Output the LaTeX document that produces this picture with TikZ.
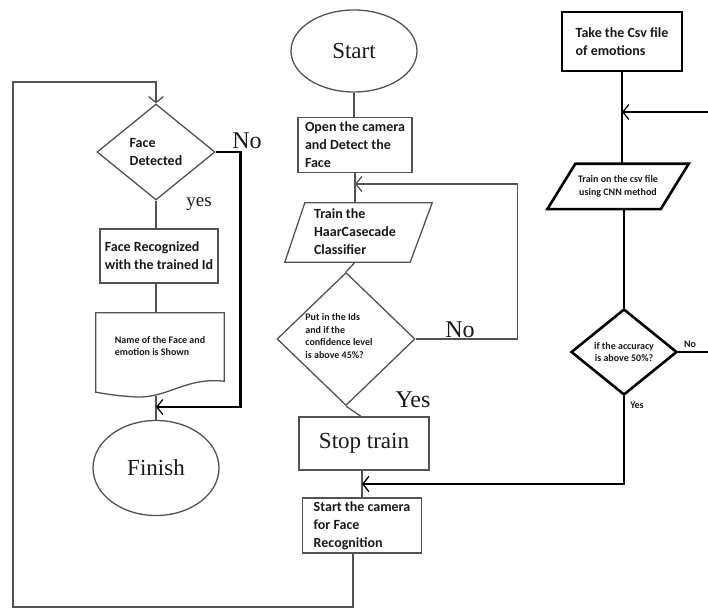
\documentclass[tikz,border=0pt]{standalone}
\usepackage{fontspec}
\setmainfont{Liberation Serif}
\setsansfont{Carlito}
\usetikzlibrary{shapes.geometric,arrows.meta}
\begin{document}
\begin{tikzpicture}[x=1pt,y=-1pt,
  thinln/.style={draw=black!68, line width=1.3pt},
  thickln/.style={draw=black, line width=2.6pt},
  barb/.style={-{Straight Barb[length=6pt,width=15pt,line width=1.3pt]}},
  boxtxt/.style={font=\sffamily\bfseries\fontsize{14}{18}\selectfont, text=black!90, align=left},
  smalltxt/.style={font=\sffamily\bfseries\fontsize{10}{12.5}\selectfont, text=black!90},
  bigserif/.style={font=\fontsize{23}{26}\selectfont, text=black!90},
  procbox/.style={rectangle, thinln, inner sep=0pt, boxtxt},
  termin/.style={ellipse, thinln, inner sep=0pt, bigserif},
  decide/.style={diamond, thinln, inner sep=0pt},
  plainbox/.style={rectangle, draw=none, inner sep=0pt}
]
\useasboundingbox (0,0) rectangle (708,609);

% ---------------- left column: recognition ----------------
\node[decide, boxtxt, minimum width=118, minimum height=96] (fd) at (156,152) {Face\\Detected};
\node[procbox, minimum width=118, minimum height=54] (fr) at (159,256) {Face Recognized\\with the trained Id};
\node[plainbox, minimum width=128, minimum height=84] (doc) at (160,355) {};
\draw[thinln] (doc.north west) -- (doc.north east) -- ([yshift=16]doc.south east)
  .. controls (186,377) and (168,398) .. (137,397)
  .. controls (118,396) and (106,394) .. ([yshift=5]doc.south west) -- cycle;
\node[smalltxt, align=left] (doctext) at (160,346) {Name of the Face and\\emotion is Shown};
\node[termin, minimum width=126, minimum height=95] (fin) at (156,468) {Finish};

\draw[thinln] (fd.south) -- (fd.south |- fr.north);
\draw[thinln] (fd.south |- fr.south) -- (fd.south |- doc.north);
\coordinate (fdjoin) at (156,407);
\draw[thinln] (fin.north |- 0,396) -- (fin.north);
\draw[thickln, barb] (fd.east) -- ++(25,0) |- (fdjoin);
\node[bigserif, font=\fontsize{24}{26}\selectfont] at (247,141) {No};
\node[bigserif, font=\fontsize{19}{22}\selectfont] at (199,204) {yes};

% ---------------- middle column: training ----------------
\node[termin, minimum width=126, minimum height=82] (start) at (354,51) {Start};
\node[procbox, minimum width=114, minimum height=55] (ob) at (355,145) {Open the camera\\and Detect the\\Face};
\node[plainbox, minimum width=127, minimum height=59] (haar) at (358.5,232.5) {};
\draw[thinln] ([xshift=10]haar.north west) -- ([xshift=10]haar.north east)
  -- ([xshift=-12]haar.south east) -- ([xshift=-10]haar.south west) -- cycle;
\node[boxtxt] (haartext) at (355,232) {Train the\\HaarCasecade\\Classifier};
\node[decide, minimum width=138, minimum height=133] (pd) at (346,339) {};
\node[smalltxt, align=left] (pdtext) at (339,336) {Put in the Ids\\and if the\\confidence level\\is above 45\%?};
\node[procbox, bigserif, minimum width=130, minimum height=53] (stop) at (364,443.5) {Stop train};
\node[procbox, minimum width=119, minimum height=55] (cam) at (362,525.5) {Start the camera\\for Face\\Recognition};

\draw[thinln] (start.south) -- (start.south |- ob.north);
\draw[thinln] (ob.south) -- (ob.south |- haar.north);
\draw[thinln] (ob.south |- haar.south) -- (pd.north);
\draw[thinln] (pd.south) -- ([xshift=-3]stop.north);
\draw[thinln] ([xshift=-2]stop.south) -- (cam.north);
\coordinate (midjoin) at (355,184);
\draw[thinln, barb] (pd.east) -- ++(102,0) |- (midjoin);
\node[bigserif, font=\fontsize{24}{26}\selectfont] at (460,330) {No};
\node[bigserif, font=\fontsize{24}{26}\selectfont] at (413,400) {Yes};

% loop back from the recognition camera to face detection
\coordinate (loopbl) at (13,607);
\coordinate (looptl) at (13,82);
\draw[thinln, barb] ([xshift=-9]cam.south) |- (loopbl) -- (looptl) -| (fd.north);

% ---------------- right column: emotion model ----------------
\node[procbox, thickln, minimum width=120, minimum height=59] (csv) at (622,41.5) {Take the Csv file\\of emotions};
\node[plainbox, smalltxt, align=center, minimum width=113, minimum height=45] (cnn) at (618,186.5)
  {Train on the csv file\\using CNN method};
\draw[thickln] ([xshift=14]cnn.north west) -- ([xshift=14]cnn.north east)
  -- ([xshift=-14]cnn.south east) -- ([xshift=-14]cnn.south west) -- cycle;
\node[decide, thickln, smalltxt, align=center, minimum width=106, minimum height=86] (acc) at (624,352)
  {if the accuracy\\is above 50\%?};

\coordinate (redgeA) at (708,112);
\coordinate (redgeB) at (708,352);
\coordinate (camjoin) at (362,484);
\draw[thickln] (csv.south) -- (csv.south |- cnn.north);
\draw[thickln, barb] (redgeA) -- (csv.south |- redgeA);
\draw[thickln] (acc.north |- cnn.south) -- (acc.north);
\draw[thickln] (acc.east) -- (redgeB);
\draw[thickln, barb] (acc.south) |- (camjoin);
\node[smalltxt] at (690,344) {No};
\node[smalltxt] at (637,405) {Yes};
\end{tikzpicture}
\end{document}
